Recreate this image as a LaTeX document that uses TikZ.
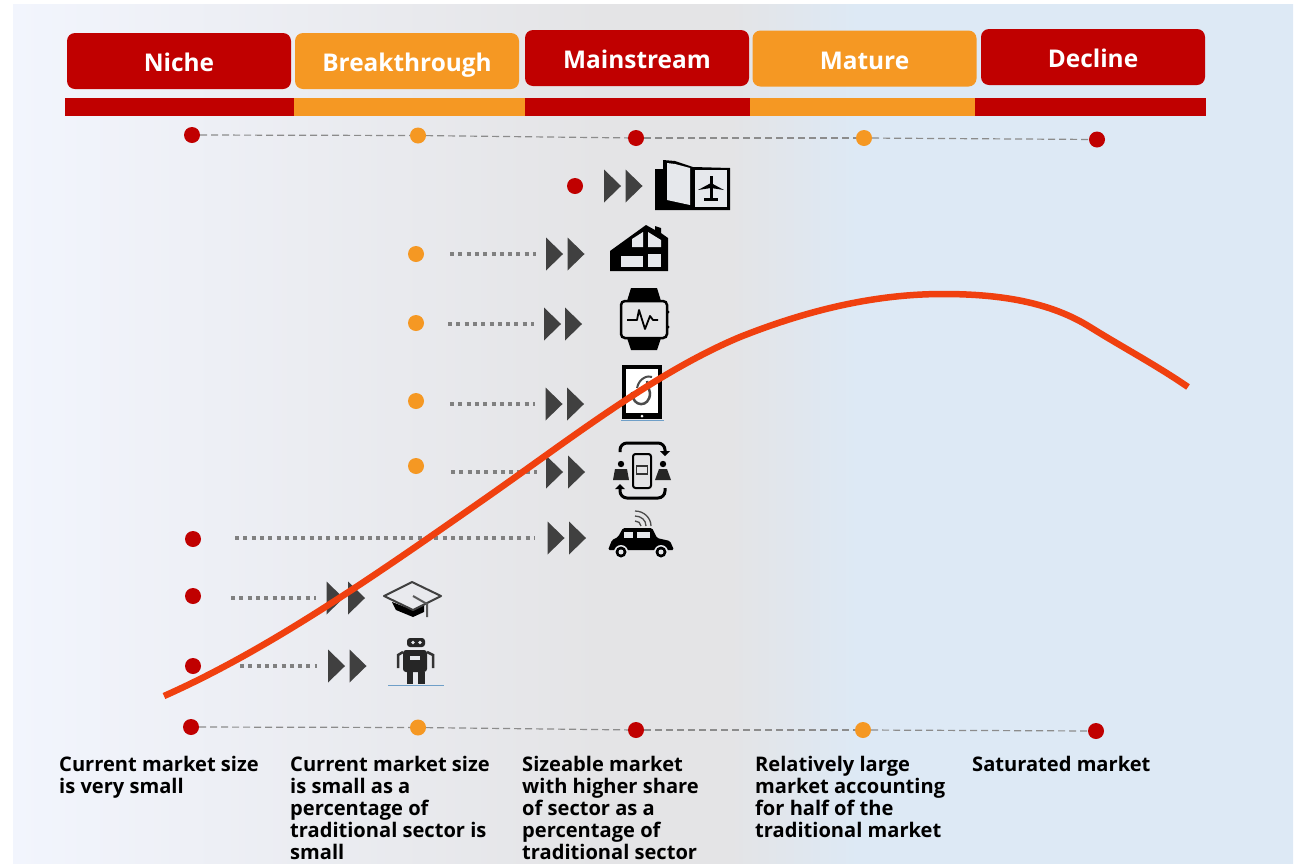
\documentclass[tikz,border=0pt]{standalone}
\usepackage{fontspec}
\setmainfont{Open Sans}
\usetikzlibrary{shapes.geometric}
\definecolor{stagered}{HTML}{C00000}
\definecolor{stageorange}{HTML}{F59823}
\definecolor{curvered}{HTML}{F0400F}
\definecolor{bgleft}{HTML}{F2F5FD}
\definecolor{bgmid}{HTML}{E4E4E6}
\definecolor{bgright}{HTML}{DDE9F5}
\definecolor{iconpale}{HTML}{E6E8EC}
\definecolor{baseblue}{HTML}{6F9FC8}
\pgfdeclarehorizontalshading{bgshade}{100bp}{color(0bp)=(bgleft); color(25bp)=(bgleft); color(48bp)=(bgmid); color(53bp)=(bgmid); color(58bp)=(bgright); color(100bp)=(bgright)}
\tikzset{
  headbox/.style={rounded corners=8pt, minimum width=224pt, minimum height=56pt, inner sep=0pt, text=white, text height=21pt, text depth=0pt, font=\bfseries\fontsize{24.4}{28}\selectfont},
  reddot/.style={circle, fill=stagered, minimum size=16pt, inner sep=0pt},
  orangedot/.style={circle, fill=stageorange, minimum size=16pt, inner sep=0pt},
  dashline/.style={draw=black!45, line width=1.2pt, dash pattern=on 7pt off 4pt},
  dotline/.style={draw=black!50, line width=3.5pt, dash pattern=on 4pt off 4.3pt},
  playtri/.style={isosceles triangle, isosceles triangle stretches, fill=black!75, minimum width=33pt, minimum height=17pt, inner sep=0pt, xshift=-1.5pt},
  marketnote/.style={anchor=north west, align=left, inner sep=0pt, font=\bfseries\fontsize{20.1}{22.1}\selectfont}
}
\begin{document}
\begin{tikzpicture}[x=1pt,y=-1pt]
  \useasboundingbox (0,0) rectangle (1298,863);
  \shade[shading=bgshade] (13,4) rectangle (1293,863);

  % stages
  \node[headbox, fill=stagered] (niche) at (179,61) {Niche};
  \node[headbox, fill=stageorange] (breakthrough) at (407,61) {Breakthrough};
  \node[headbox, fill=stagered] (mainstream) at (637,58) {Mainstream};
  \node[headbox, fill=stageorange] (mature) at (864.5,58.5) {Mature};
  \node[headbox, fill=stagered] (decline) at (1093,57) {Decline};

  \fill[stagered] (65,98) rectangle (294,116);
  \fill[stageorange] (294,98) rectangle (525,116);
  \fill[stagered] (525,98) rectangle (750,116);
  \fill[stageorange] (750,98) rectangle (975,116);
  \fill[stagered] (975,98) rectangle (1206,116);

  % top and bottom lines
  \node[reddot] (topa) at (192,135) {};
  \node[orangedot] (topb) at (418,135.5) {};
  \node[reddot] (topc) at (636,138) {};
  \node[orangedot] (topd) at (864,138) {};
  \node[reddot] (tope) at (1097,139.5) {};
  \draw[dashline] (topa) -- (topb);
  \draw[dashline] (topb) -- (topc);
  \draw[dashline] (topc) -- (topd);
  \draw[dashline] (topd) -- (tope);

  \node[reddot] (bota) at (191,727) {};
  \node[orangedot] (botb) at (418,727.5) {};
  \node[reddot] (botc) at (636,730) {};
  \node[orangedot] (botd) at (863,730) {};
  \node[reddot] (bote) at (1096,731) {};
  \draw[dashline] (bota) -- (botb);
  \draw[dashline] (botb) -- (botc);
  \draw[dashline] (botc) -- (botd);
  \draw[dashline] (botd) -- (bote);

  % technology rows
  \node[reddot] (rowa) at (575,186) {};
  \node[playtri] (playaa) at (612.5,186) {};
  \node[playtri] (playab) at (634,186) {};

  \node[orangedot] (rowb) at (416,254) {};
  \node[playtri] (playba) at (554.5,254) {};
  \node[playtri] (playbb) at (576,254) {};
  \draw[dotline, shorten <=34pt, shorten >=10pt] (rowb |- playba.west) -- (playba.west);

  \node[orangedot] (rowc) at (416,323) {};
  \node[playtri] (playca) at (552.5,324) {};
  \node[playtri] (playcb) at (573.5,324) {};
  \draw[dotline, shorten <=32pt, shorten >=10pt] (rowc |- playca.west) -- (playca.west);

  \node[orangedot] (rowd) at (416,401) {};
  \node[playtri] (playda) at (554,404) {};
  \node[playtri] (playdb) at (575.5,404) {};
  \draw[dotline, shorten <=34pt, shorten >=10pt] (rowd |- playda.west) -- (playda.west);

  \node[orangedot] (rowe) at (416,466) {};
  \node[playtri] (playea) at (554.5,472) {};
  \node[playtri] (playeb) at (576.5,472) {};
  \draw[dotline, shorten <=35pt, shorten >=9pt] (rowe |- playea.west) -- (playea.west);

  \node[reddot] (rowf) at (193,539) {};
  \node[playtri] (playfa) at (556,538) {};
  \node[playtri] (playfb) at (577.5,538) {};
  \draw[dotline, shorten <=42pt, shorten >=12pt] (rowf |- playfa.west) -- (playfa.west);

  \node[reddot] (rowg) at (193,596) {};
  \node[playtri] (playga) at (335,598) {};
  \node[playtri] (playgb) at (356.5,598) {};
  \draw[dotline, shorten <=38pt, shorten >=10pt] (rowg |- playga.west) -- (playga.west);

  \node[reddot] (rowh) at (193,666) {};
  \node[playtri] (playha) at (336.5,666) {};
  \node[playtri] (playhb) at (358,666) {};
  \draw[dotline, shorten <=47pt, shorten >=11pt] (rowh |- playha.west) -- (playha.west);

  % plane icon
  \fill[black] (655,169) -- (663,169) -- (663,160) -- (675,161) -- (693,167) -- (730,168) -- (730,210) -- (655,210) -- cycle;
  \fill[iconpale] (667,163) -- (675,164) -- (690,168) -- (690,205) -- (667,200) -- cycle;
  \fill[iconpale] (695,170) rectangle (727,207);
  \fill[black] (709.5,176) -- (712.5,176) -- (712.5,199) -- (709.5,199) -- cycle;
  \fill[black] (698,190) -- (711,183) -- (724,190) -- (711,188) -- cycle;
  \fill[black] (704,198) rectangle (718,200.5);

  % house icon
  \fill[black] (610,271) -- (610,251) -- (646,225) -- (655,230) -- (655,226) -- (661,228) -- (661,233) -- (668,238) -- (668,271) -- cycle;
  \fill[iconpale] (632,247) -- (632,239) -- (643,232) -- (643,247) -- cycle;
  \fill[iconpale] (648,232) -- (661,240) -- (661,247) -- (648,247) -- cycle;
  \fill[iconpale] (621,256) rectangle (643,267);
  \fill[iconpale] (648,254) rectangle (661,267);

  % watch icon
  \fill[black] (627,301) -- (631,288) -- (657,288) -- (661,301) -- cycle;
  \fill[black] (627,338) -- (631,350) -- (657,350) -- (661,338) -- cycle;
  \draw[black, line width=2.5pt, rounded corners=4pt] (621,301) rectangle (667,338);
  \draw[black, line width=1.8pt, line join=round] (627,320) -- (637,320) -- (639,310) -- (645,329) -- (650,316) -- (653,320) -- (658,320);
  \fill[black] (668,312) circle (1.5);
  \fill[black] (668,327) circle (1.5);

  % tablet icon
  \fill[black] (622,365) rectangle (662,419);
  \fill[white] (626,369) rectangle (658,413);
  \fill[white] (642,416) circle (1.5);
  \draw[baseblue, line width=1pt] (621,420) -- (664,420);
  \draw[black!70, line width=2.5pt] (632,392) .. controls (632,408) and (650,408) .. (650,393) -- (647,381);
  \draw[black!70, line width=2pt] (637,388) .. controls (639,378) and (648,375) .. (652,377);

  % exchange icon
  \draw[black, line width=3pt, rounded corners=7pt] (620,452) -- (620,443) -- (665,443) -- (665,452);
  \fill[black] (660,451) -- (670,451) -- (665,456) -- cycle;
  \draw[black, line width=3pt, rounded corners=7pt] (620,488) -- (620,498) -- (665,498) -- (665,488);
  \fill[black] (615,489) -- (625,489) -- (620,484) -- cycle;
  \draw[black, line width=2pt, rounded corners=2.5pt] (633,454) rectangle (651,488);
  \draw[black!80, line width=1.5pt] (636.5,466) rectangle (647.5,474);
  \fill[black] (621,464) circle (3.2);
  \fill[black] (663,464) circle (3.2);
  \fill[black!85] (613,480) -- (615,469) -- (627,469) -- (629,480) -- cycle;
  \fill[black!85] (655,480) -- (659,469) -- (667,469) -- (671,480) -- cycle;

  % car icon
  \fill[black, rounded corners=1.5pt] (608,550) -- (612,540) -- (618,537) -- (623,528) -- (652,528) -- (657,538) -- (670,541) -- (674,550) -- cycle;
  \fill[iconpale] (624,532) rectangle (633,538);
  \fill[iconpale] (637,532) rectangle (650,538);
  \fill[iconpale] (621,552) circle (7);
  \fill[iconpale] (661,552) circle (7);
  \fill[black] (621,552) circle (5.5);
  \fill[black] (661,552) circle (5.5);
  \fill[iconpale] (621,552) circle (2.5);
  \fill[iconpale] (661,552) circle (2.5);
  \draw[black!70, line width=1.3pt] (635,521) .. controls (638,521) and (641,523) .. (641,526);
  \draw[black!70, line width=1.3pt] (635,516) .. controls (641,516) and (646,520) .. (646,526);
  \draw[black!70, line width=1.3pt] (635,511) .. controls (644,511) and (651,518) .. (651,526);

  % cap icon
  \fill[black] (392,602) -- (396,610) -- (413,617) -- (424,612) -- (424,604) -- (413,610) -- cycle;
  \draw[black!75, line width=2pt, line join=round] (384,596) -- (412,582) -- (441,596) -- (413,610) -- cycle;
  \draw[black!65, line width=2pt] (413,596) -- (427,604) -- (427,617);

  % robot icon
  \fill[black!85, rounded corners=3pt] (407,638) rectangle (425,647);
  \fill[iconpale] (413,642.5) circle (1.8);
  \fill[iconpale] (420,642.5) circle (1.8);
  \fill[black!85, rounded corners=3pt] (403,650) rectangle (427,672);
  \fill[iconpale] (410,656) rectangle (420,660);
  \draw[black!80, line width=2.5pt] (398,668) -- (398,655) -- (403,652);
  \draw[black!80, line width=2.5pt] (433,668) -- (433,655) -- (427,652);
  \fill[black!85] (407,672) rectangle (413,684);
  \fill[black!85] (418,672) rectangle (425,684);
  \draw[baseblue, line width=1pt] (388,685) -- (444,685);

  % market curve
  \draw[curvered, line width=6.5pt] (164,696) .. controls (270,649) and (377,574) .. (483,500)
    .. controls (569,440) and (654,373) .. (740,337)
    .. controls (808,310) and (875,294) .. (943,294)
    .. controls (1000,294) and (1050,302) .. (1090,327)
    .. controls (1122,347) and (1156,365) .. (1188,387);

  % market notes
  \node[marketnote] (notea) at (59,756) {Current market size\\is very small};
  \node[marketnote] (noteb) at (290,756) {Current market size\\is small as a\\percentage of\\traditional sector is\\small};
  \node[marketnote] (notec) at (522,756) {Sizeable market\\with higher share\\of sector as a\\percentage of\\traditional sector};
  \node[marketnote] (noted) at (755,756) {Relatively large\\market accounting\\for half of the\\traditional market};
  \node[marketnote] (notee) at (972,756) {Saturated market};
\end{tikzpicture}
\end{document}
